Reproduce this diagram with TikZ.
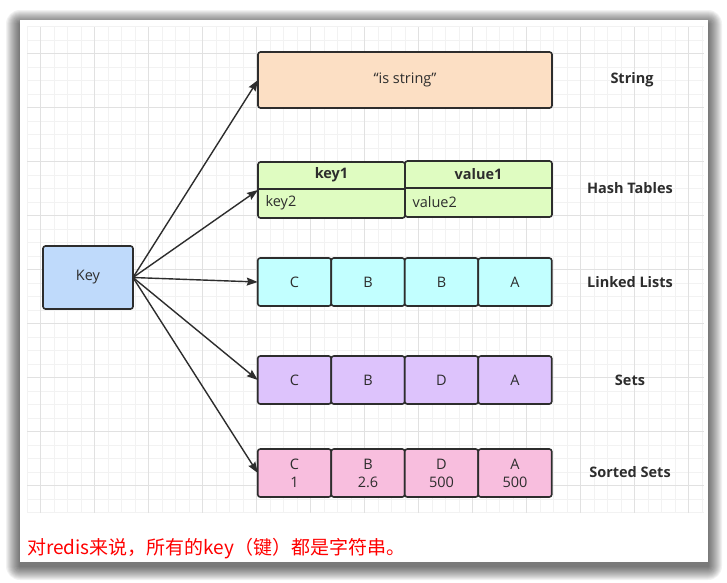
\documentclass[tikz,border=0pt]{standalone}
\usepackage{fontspec}
\setmainfont{Open Sans}
\newfontfamily\cjk{Noto Sans CJK SC}
\usetikzlibrary{arrows.meta,positioning}
\definecolor{boxline}{HTML}{2D2D2D}
\definecolor{keyblue}{HTML}{BFDAFB}
\definecolor{strpeach}{HTML}{FCDFC4}
\definecolor{hashgreen}{HTML}{DFFCC1}
\definecolor{listcyan}{HTML}{C2FFFF}
\definecolor{setpurple}{HTML}{DDC3FC}
\definecolor{zsetpink}{HTML}{F8BEDE}
\definecolor{gridminor}{HTML}{F2F2F2}
\definecolor{gridmajor}{HTML}{E1E1E1}

\begin{document}
\begin{tikzpicture}[x=1pt, y=-1pt,
    box/.style={draw=boxline, line width=1.6pt, rounded corners=2.5pt, inner sep=0pt, outer sep=0pt,
      text=boxline, font=\fontsize{14.5}{18}\selectfont, align=center},
    cell/.style={box, minimum width=73.5pt, minimum height=48pt},
    tag/.style={font=\bfseries\fontsize{14.5}{16}\selectfont, text=boxline},
    link/.style={-{Stealth[length=11pt, width=8pt, inset=1.5pt]}, line width=1.4pt, draw=boxline}]

  \useasboundingbox (0,0) rectangle (727,582);

  % card with its shadow
  \foreach \i in {1,...,14}
    \fill[black, opacity=0.05, rounded corners=\i pt] ({20-\i},{24-\i}) rectangle ({708+\i},{566+\i});
  \fill[white] (20,20) rectangle (708,562);

  % grid
  \foreach \x in {27,40.5,...,705} \draw[gridminor, line width=0.8pt] (\x,27) -- (\x,513);
  \foreach \y in {26.5,40,...,513} \draw[gridminor, line width=0.8pt] (27,\y) -- (704,\y);
  \foreach \x in {40.5,94.5,...,705} \draw[gridmajor, line width=0.8pt] (\x,27) -- (\x,513);
  \foreach \y in {53.5,107.5,...,513} \draw[gridmajor, line width=0.8pt] (27,\y) -- (704,\y);

  % key
  \node[box, fill=keyblue, minimum width=90pt, minimum height=63pt] (key) at (88,277.5) {Key};

  % string
  \node[box, fill=strpeach, minimum width=294pt, minimum height=56pt] (str) at (405,80) {“is string”};

  % hash tables
  \node[box, fill=hashgreen, minimum width=147pt, minimum height=56pt] (hashl) at (331.5,190) {};
  \node[box, fill=hashgreen, minimum width=147pt, minimum height=56pt] (hashr) at (478.5,189) {};
  \draw[boxline, line width=1.6pt] (hashl.west |- 0,189) -- (hashl.east |- 0,189);
  \draw[boxline, line width=1.6pt] (hashr.west |- 0,188) -- (hashr.east |- 0,188);
  \node[font=\bfseries\fontsize{14.5}{16}\selectfont, text=boxline] (hk1) at (331.5,175) {key1};
  \node[font=\bfseries\fontsize{14.5}{16}\selectfont, text=boxline] (hv1) at (478.5,174) {value1};
  \node[anchor=west, text=boxline, font=\fontsize{14.5}{16}\selectfont] (hk2) at (262,203) {key2};
  \node[anchor=west, text=boxline, font=\fontsize{14.5}{16}\selectfont] (hv2) at (409,202) {value2};

  % linked list
  \node[cell, fill=listcyan] (ll1) at (294.5,282) {C};
  \node[cell, fill=listcyan, right=0pt of ll1] (ll2) {B};
  \node[cell, fill=listcyan, right=0pt of ll2] (ll3) {B};
  \node[cell, fill=listcyan, right=0pt of ll3] (ll4) {A};

  % set
  \node[cell, fill=setpurple] (st1) at (294.5,380) {C};
  \node[cell, fill=setpurple, right=0pt of st1] (st2) {B};
  \node[cell, fill=setpurple, right=0pt of st2] (st3) {D};
  \node[cell, fill=setpurple, right=0pt of st3] (st4) {A};

  % sorted set
  \node[cell, fill=zsetpink] (ss1) at (294.5,473) {C\\1};
  \node[cell, fill=zsetpink, right=0pt of ss1] (ss2) {B\\2.6};
  \node[cell, fill=zsetpink, right=0pt of ss2] (ss3) {D\\500};
  \node[cell, fill=zsetpink, right=0pt of ss3] (ss4) {A\\500};

  % type names
  \node[tag] (tstr) at (632,80) {String};
  \node[tag] (thash) at (630,188) {Hash Tables};
  \node[tag] (tlist) at (630,282) {Linked Lists};
  \node[tag] (tset) at (630,380) {Sets};
  \node[tag] (tzset) at (630,472) {Sorted Sets};

  \draw[link] (key.east) -- (str.west);
  \draw[link] (key.east) -- (hashl.west);
  \draw[link] (key.east) -- (ll1.west);
  \draw[link] (key.east) -- (st1.west);
  \draw[link] (key.east) -- (ss1.west);

  \node[anchor=west, text=red, font=\cjk\fontsize{19}{22}\selectfont, inner sep=0pt] (note) at (27,549) {对redis来说，所有的key（键）都是字符串。};
\end{tikzpicture}
\end{document}
